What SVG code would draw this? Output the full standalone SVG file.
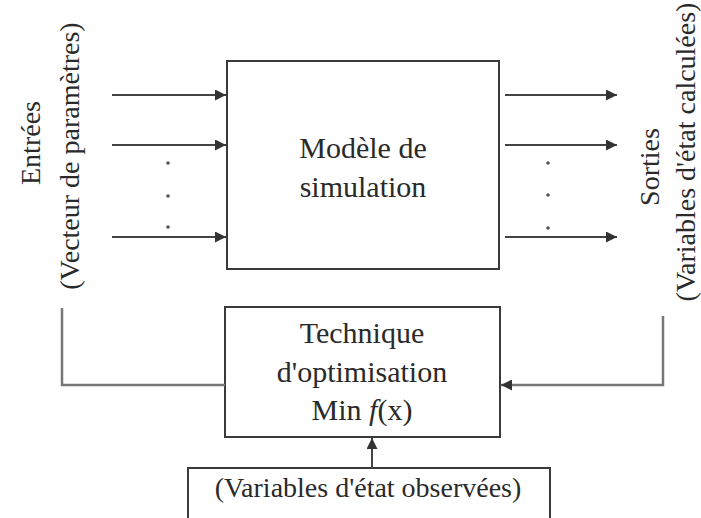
<svg xmlns="http://www.w3.org/2000/svg" width="701" height="518" viewBox="0 0 701 518">
  <style>
    .box { fill: #ffffff; stroke: #3a3a3a; stroke-width: 2; }
    .lbl { font-family: "Liberation Serif", "Times New Roman", serif; font-size: 28px; fill: #2a2a2a; }
    .big { font-size: 30px; }
    .mid { text-anchor: middle; }
    .wire { fill: none; stroke: #444; stroke-width: 2; }
    .fb { fill: none; stroke: #777; stroke-width: 2.5; }
    .dot { fill: #555; }
  </style>
  <defs>
    <marker id="arrow" viewBox="0 0 10 10" refX="10" refY="5" markerWidth="18" markerHeight="11" markerUnits="userSpaceOnUse" orient="auto">
      <path d="M0,0 L10,5 L0,10 Z" fill="#333"/>
    </marker>
  </defs>

  <rect width="701" height="518" fill="#ffffff"/>

  <!-- side labels -->
  <g id="inputs-label">
    <text class="lbl mid" transform="translate(40,143) rotate(-90)">Entrées</text>
    <text class="lbl mid" transform="translate(79,156) rotate(-90)">(Vecteur de paramètres)</text>
  </g>
  <g id="outputs-label">
    <text class="lbl mid" transform="translate(659,167) rotate(-90)">Sorties</text>
    <text class="lbl mid" transform="translate(695,152) rotate(-90)">(Variables d'état calculées)</text>
  </g>

  <!-- simulation model -->
  <g id="model">
    <rect class="box" x="227" y="61" width="272" height="208"/>
    <text class="lbl big mid" x="363" y="158">Modèle de</text>
    <text class="lbl big mid" x="363" y="197">simulation</text>
  </g>

  <!-- optimisation technique -->
  <g id="optimiser">
    <rect class="box" x="225" y="307" width="275" height="130"/>
    <text class="lbl big mid" x="362" y="343">Technique</text>
    <text class="lbl big mid" x="362" y="382">d'optimisation</text>
    <text class="lbl big mid" x="362" y="420">Min <tspan font-style="italic">f</tspan>(x)</text>
  </g>

  <!-- observed state variables -->
  <g id="observed">
    <rect class="box" x="188" y="468" width="362" height="60"/>
    <text class="lbl mid" x="368" y="497">(Variables d'état observées)</text>
  </g>

  <!-- connectors -->
  <g id="connectors">
    <line class="wire" x1="112" y1="95" x2="226" y2="95" marker-end="url(#arrow)"/>
    <line class="wire" x1="112" y1="145" x2="226" y2="145" marker-end="url(#arrow)"/>
    <line class="wire" x1="112" y1="237" x2="226" y2="237" marker-end="url(#arrow)"/>
    <line class="wire" x1="505" y1="95" x2="617" y2="95" marker-end="url(#arrow)"/>
    <line class="wire" x1="505" y1="145" x2="617" y2="145" marker-end="url(#arrow)"/>
    <line class="wire" x1="505" y1="237" x2="617" y2="237" marker-end="url(#arrow)"/>
    <polyline class="fb" points="62,308 62,385 225,385"/>
    <polyline class="fb" points="663,316 663,385 501,385" marker-end="url(#arrow)"/>
    <line class="wire" x1="372" y1="468" x2="372" y2="438" marker-end="url(#arrow)"/>
  </g>

  <!-- ellipsis dots -->
  <g id="ellipsis">
    <circle class="dot" cx="168" cy="163" r="1.8"/>
    <circle class="dot" cx="168" cy="196" r="1.8"/>
    <circle class="dot" cx="168" cy="227" r="1.8"/>
    <circle class="dot" cx="548" cy="163" r="1.8"/>
    <circle class="dot" cx="548" cy="195" r="1.8"/>
    <circle class="dot" cx="548" cy="228" r="1.8"/>
  </g>
</svg>
